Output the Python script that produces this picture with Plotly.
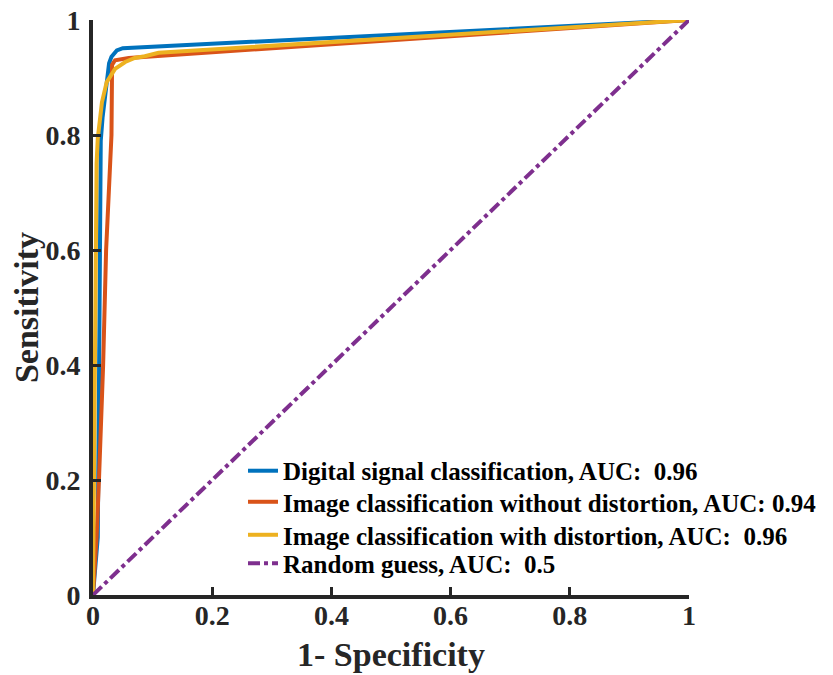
import plotly.graph_objects as go

# ROC data
blue_fpr = [0, 0.004, 0.008, 0.011, 0.013, 0.016, 0.02, 0.027, 0.031, 0.04, 0.05, 1]
blue_tpr = [0, 0.05, 0.1, 0.5, 0.79, 0.83, 0.87, 0.925, 0.936, 0.947, 0.951, 1]

orange_fpr = [0, 0.006, 0.01, 0.017, 0.022, 0.028, 0.031, 0.032, 0.037, 0.06, 1]
orange_tpr = [0, 0.1, 0.2, 0.4, 0.6, 0.72, 0.8, 0.922, 0.93, 0.934, 1]

yellow_fpr = [0, 0.002, 0.004, 0.006, 0.008, 0.015, 0.023, 0.037, 0.054, 0.07, 0.087, 0.11, 1]
yellow_tpr = [0, 0.3, 0.6, 0.75, 0.794, 0.857, 0.892, 0.915, 0.927, 0.934, 0.937, 0.943, 1]

random_fpr = [0, 1]
random_tpr = [0, 1]

names = [
    "Digital signal classification, AUC:\u00a0 0.96",
    "Image classification without distortion, AUC: 0.94",
    "Image classification with distortion, AUC:\u00a0 0.96",
    "Random guess, AUC:\u00a0 0.5",
]
colors = ["#0072BD", "#D95319", "#EDB120", "#7E2F8E"]

tick_vals = [0, 0.2, 0.4, 0.6, 0.8, 1]
tick_text = ["0", "0.2", "0.4", "0.6", "0.8", "1"]

font_family = "Times New Roman, Liberation Serif, serif"
axis_color = "#262626"

legend_ids = ["legend", "legend2", "legend3", "legend4"]
legend_rows_y = [0.2157, 0.1617, 0.1043, 0.055]

fig = go.Figure()
series = [(blue_fpr, blue_tpr), (orange_fpr, orange_tpr), (yellow_fpr, yellow_tpr), (random_fpr, random_tpr)]
for i, ((xs, ys), nm, c) in enumerate(zip(series, names, colors)):
    fig.add_trace(go.Scatter(
        x=xs, y=ys, mode="lines", name=nm, legend=legend_ids[i],
        line=dict(color=c, width=4, dash="dashdot" if i == 3 else "solid"),
    ))

axis_common = dict(
    range=[0, 1], tickvals=tick_vals, ticktext=tick_text,
    showgrid=False, zeroline=False, showline=True, linecolor=axis_color, linewidth=4,
    ticks="inside", ticklen=8, tickwidth=3, tickcolor=axis_color,
    tickfont=dict(family=font_family, size=28, color=axis_color, weight="bold"),
    mirror=False, automargin=False, ticklabeloverflow="allow",
)

legend_style = dict(
    x=0.2517, xanchor="left", yanchor="middle",
    bgcolor="rgba(0,0,0,0)", borderwidth=0,
    font=dict(family=font_family, size=25, color="black", weight="bold"),
)

layout_legends = {lid: dict(**legend_style, y=yv) for lid, yv in zip(legend_ids, legend_rows_y)}

fig.update_layout(
    width=825, height=667,
    margin=dict(l=85, r=144, t=12, b=80, autoexpand=False),
    paper_bgcolor="white", plot_bgcolor="white",
    showlegend=True,
    **layout_legends,
    xaxis=dict(**axis_common, ticklabelstandoff=-8,
               title=dict(text="1- Specificity", standoff=14,
               font=dict(family=font_family, size=34, color=axis_color, weight="bold"))),
    yaxis=dict(**axis_common, ticklabelstandoff=3,
               title=dict(text="Sensitivity", standoff=4,
               font=dict(family=font_family, size=34, color=axis_color, weight="bold"))),
)

fig.write_html("out.html")
